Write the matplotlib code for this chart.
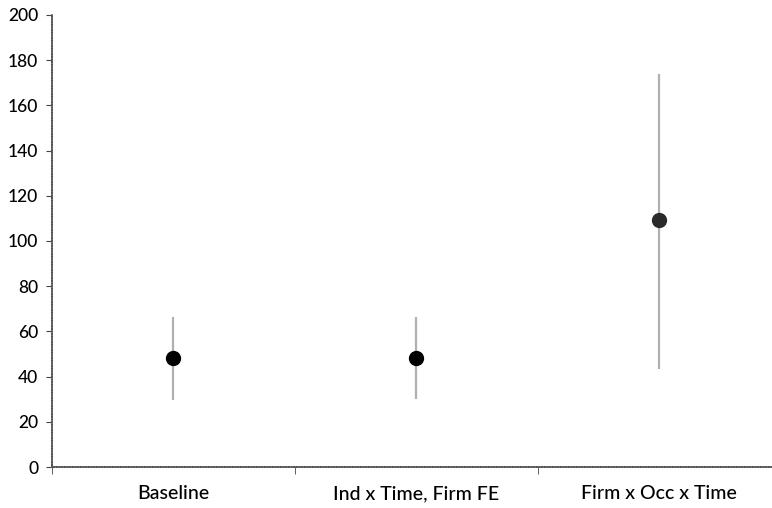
import matplotlib
matplotlib.use('Agg')
import matplotlib.pyplot as plt

categories = ['Baseline', 'Ind x Time, Firm FE', 'Firm x Occ x Time']
estimates = [48.3, 48.2, 109.3]
lower = [29.8, 30.0, 43.5]
upper = [66.5, 66.5, 173.8]

plt.rcParams['font.family'] = ['Lato', 'DejaVu Sans']

fig = plt.figure(figsize=(7.72, 5.08), dpi=100)
ax = fig.add_axes([0.0674, 0.0807, 0.944, 0.8898])

x = list(range(1, len(categories) + 1))
err_lo = [e - l for e, l in zip(estimates, lower)]
err_hi = [u - e for e, u in zip(estimates, upper)]

ax.errorbar(x, estimates, yerr=[err_lo, err_hi], fmt='none',
            ecolor='#b0b0b0', elinewidth=1.6, capsize=0, zorder=2)
ax.plot(x[:2], estimates[:2], 'o', color='black', markersize=10, zorder=3)
ax.plot(x[2:], estimates[2:], 'o', color='#2a2a2a', markersize=10, zorder=3)

ax.set_xlim(0.5, 3.5)
ax.set_ylim(0, 200)
ax.set_yticks(range(0, 201, 20))
ax.set_xticks(x)
ax.set_xticklabels(categories, fontsize=14, fontweight='medium')
ax.set_xticks([0.5, 1.5, 2.5, 3.5], minor=True)
ax.tick_params(axis='x', which='major', length=0, pad=13)
ax.tick_params(axis='x', which='minor', length=5, direction='out', color='#444444')
ax.tick_params(axis='y', length=4, direction='out', color='#444444', labelsize=12.5, pad=6)
for lbl in ax.get_yticklabels():
    lbl.set_fontweight('medium')

for s in ['top', 'right']:
    ax.spines[s].set_visible(False)
for s in ['left', 'bottom']:
    ax.spines[s].set_color('#555555')
    ax.spines[s].set_linewidth(1.2)
    ax.spines[s].set_linestyle((0, (1, 0.6)))

fig.savefig('out.png', dpi=100)
